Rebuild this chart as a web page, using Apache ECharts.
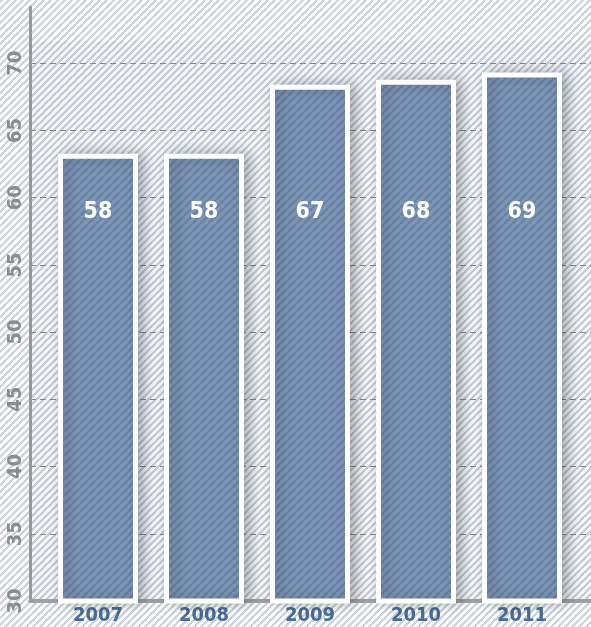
<!DOCTYPE html>
<html>
<head>
<meta charset="utf-8">
<script src="https://cdn.jsdelivr.net/npm/echarts@6/dist/echarts.min.js"></script>
<style>
  html, body { margin: 0; padding: 0; }
  body {
    background: repeating-linear-gradient(135deg, #c9d2df 0px, #c9d2df 2.4px, #ffffff 2.4px, #ffffff 4.95px);
  }
  #main { width: 591px; height: 627px; }
</style>
</head>
<body>
<div id="main"></div>
<script>
var years = ['2007', '2008', '2009', '2010', '2011'];
// bar heights as drawn on the axis
var barHeights = [63.26, 63.26, 68.39, 68.76, 69.3];
// numbers printed inside the bars
var barLabels = [58, 58, 67, 68, 69];
var yTicks = [30, 35, 40, 45, 50, 55, 60, 65, 70];

// diagonal stripes for the bars
function stripes(base, line) {
    var c = document.createElement('canvas');
    c.width = 8; c.height = 8;
    var ctx = c.getContext('2d');
    ctx.fillStyle = base;
    ctx.fillRect(0, 0, 8, 8);
    ctx.strokeStyle = line;
    ctx.lineWidth = 2.8;
    for (var k = -8; k <= 8; k += 8) {
        ctx.beginPath();
        ctx.moveTo(k, 8);
        ctx.lineTo(k + 8, 0);
        ctx.stroke();
    }
    return c;
}

var chart = echarts.init(document.getElementById('main'));
var option = {
    animation: false,
    grid: {
        left: 30,
        right: 0,
        top: 7,
        bottom: 26
    },
    xAxis: {
        type: 'value',
        min: -0.6415,
        max: 4.651,
        axisLine: { show: true, onZero: false, lineStyle: { color: '#a3a3a3', width: 4 } },
        axisTick: { show: false },
        splitLine: { show: false },
        axisLabel: {
            customValues: [0, 1, 2, 3, 4],
            formatter: function (v) { return years[Math.round(v)]; },
            color: '#4a6c96',
            fontFamily: 'DejaVu Sans Condensed',
            fontWeight: 'bold',
            fontSize: 20,
            margin: 5
        }
    },
    yAxis: {
        type: 'value',
        min: yTicks[0],
        max: 74.18,
        interval: 5,
        axisLine: { show: true, onZero: false, lineStyle: { color: '#9a9a9a', width: 3 } },
        axisTick: { show: true, inside: true, length: 3, lineStyle: { color: '#9a9a9a' } },
        axisLabel: {
            rotate: 90,
            showMaxLabel: false,
            color: '#8c8c8c',
            fontFamily: 'DejaVu Sans Condensed',
            fontWeight: 'bold',
            fontSize: 20,
            margin: 4,
            formatter: function (v) { return yTicks.indexOf(v) >= 0 ? String(v) : ''; }
        },
        splitLine: {
            show: true,
            showMaxLine: false,
            showMinLine: false,
            lineStyle: { color: '#8a8a8a', type: [6, 4], width: 1 }
        }
    },
    series: [
        {
            type: 'line',
            data: [],
            z: 0,
            silent: true,
            markArea: {
                silent: true,
                itemStyle: { color: 'rgba(70,90,120,0.05)' },
                data: [[{ yAxis: 30 }, { yAxis: 71.65 }]]
            }
        },
        {
            type: 'bar',
            barWidth: 80,
            z: 2,
            data: barHeights.map(function (h, i) { return [i, h]; }),
            itemStyle: {
                color: { image: stripes('#7f97b7', '#6b84a6'), repeat: 'repeat' },
                borderColor: '#ffffff',
                borderWidth: 5,
                shadowBlur: 14,
                shadowOffsetX: 5,
                shadowOffsetY: 0,
                shadowColor: 'rgba(0,0,0,0.28)'
            }
        },
        {
            type: 'scatter',
            z: 5,
            silent: true,
            symbolSize: 1,
            itemStyle: { color: 'rgba(0,0,0,0)', opacity: 1 },
            data: barLabels.map(function (v, i) { return [i, 58.9]; }),
            label: {
                show: true,
                position: 'inside',
                opacity: 1,
                formatter: function (p) { return String(barLabels[p.dataIndex]); },
                color: '#ffffff',
                textBorderWidth: 0,
                fontFamily: 'DejaVu Sans Condensed',
                fontWeight: 'bold',
                fontSize: 23
            }
        }
    ]
};
chart.setOption(option);
</script>
</body>
</html>
